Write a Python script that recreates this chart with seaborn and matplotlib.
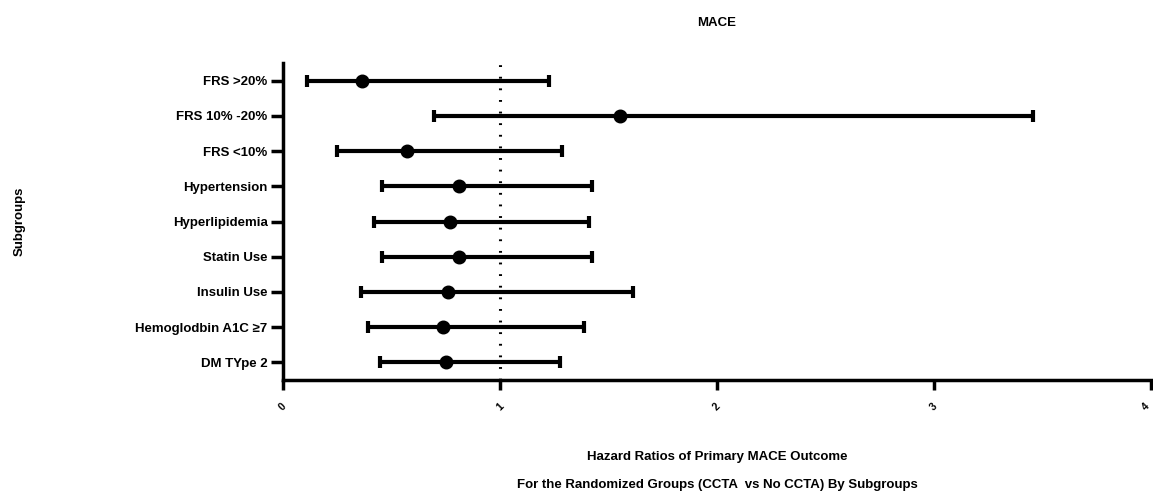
import numpy as np
import pandas as pd
import matplotlib
matplotlib.use("Agg")
import matplotlib.pyplot as plt
import seaborn as sns

subgroups = ["FRS >20%", "FRS 10% -20%", "FRS <10%", "Hypertension", "Hyperlipidemia",
             "Statin Use", "Insulin Use", "Hemoglodbin A1C ≥7", "DM TYpe 2"]
hazard_ratio = [0.365, 1.553, 0.57, 0.811, 0.770, 0.811, 0.760, 0.739, 0.751]
ci_lower = [0.112, 0.697, 0.250, 0.458, 0.421, 0.458, 0.361, 0.390, 0.447]
ci_upper = [1.226, 3.456, 1.287, 1.422, 1.412, 1.422, 1.611, 1.389, 1.276]
x_ticks = [0, 1, 2, 3, 4]

sns.set_theme(style="white")
plt.rcParams['font.family'] = ['Liberation Sans', 'DejaVu Sans']
plt.rcParams['text.color'] = 'black'
plt.rcParams['axes.labelcolor'] = 'black'
plt.rcParams['xtick.color'] = 'black'
plt.rcParams['ytick.color'] = 'black'

df = pd.DataFrame({"subgroup": subgroups, "hr": hazard_ratio,
                   "lo": ci_lower, "hi": ci_upper})

fig = plt.figure(figsize=(11.53, 4.97), dpi=100)
ax = fig.add_axes([283 / 1153, 1 - 380 / 497, (1151 - 283) / 1153, (380 - 63) / 497])

pos = np.arange(len(df))
ax.errorbar(df["hr"], pos, xerr=[df["hr"] - df["lo"], df["hi"] - df["hr"]],
            fmt="none", ecolor="black", elinewidth=3, capsize=4.5, capthick=3, zorder=2)
sns.pointplot(data=df, x="hr", y="subgroup", order=subgroups, linestyle="none",
              errorbar=None, color="black", markers="o", markersize=8,
              native_scale=False, ax=ax, zorder=3)

ax.axvline(1, color="black", linestyle=(0, (0.6, 3.2)), linewidth=2.2, zorder=1)

ax.set_xlim(0, 4)
ax.set_ylim(len(df) - 0.5, -0.5)
ax.set_xticks(x_ticks)
ax.set_xticklabels([str(t) for t in x_ticks], rotation=45, fontsize=7.5, fontweight="bold",
                   ha="center", va="top", color="black")
ax.get_xticklabels()[-1].set_ha("right")
ax.tick_params(axis="x", bottom=True, direction="out", length=7, width=2.5, color="black", pad=8)
ax.tick_params(axis="y", left=True, direction="out", length=9, width=2.5, color="black", pad=2)
for lab in ax.get_yticklabels():
    lab.set_fontsize(9.5)
    lab.set_fontweight("bold")
    lab.set_color("black")

for side in ["top", "right"]:
    ax.spines[side].set_visible(False)
for side in ["left", "bottom"]:
    ax.spines[side].set_linewidth(2.5)
    ax.spines[side].set_color("black")

ax.set_ylabel("Subgroups", fontsize=9.5, fontweight="bold", color="black")
ax.yaxis.set_label_coords(-(266 - 9) / 868, 0.5)
ax.set_xlabel("Hazard Ratios of Primary MACE Outcome\nFor the Randomized Groups (CCTA  vs No CCTA) By Subgroups",
              fontsize=9.5, fontweight="bold", linespacing=2.8, color="black")
ax.xaxis.set_label_coords(0.5, -(455 - 380 - 4) / 317, transform=ax.transAxes)
ax.xaxis.label.set_va("top")
ax.set_title("MACE", fontsize=9.5, fontweight="bold", color="black",
             y=1 + (63 - 26) / 317, pad=0)
ax.grid(False)

fig.savefig("out.png", dpi=100)
